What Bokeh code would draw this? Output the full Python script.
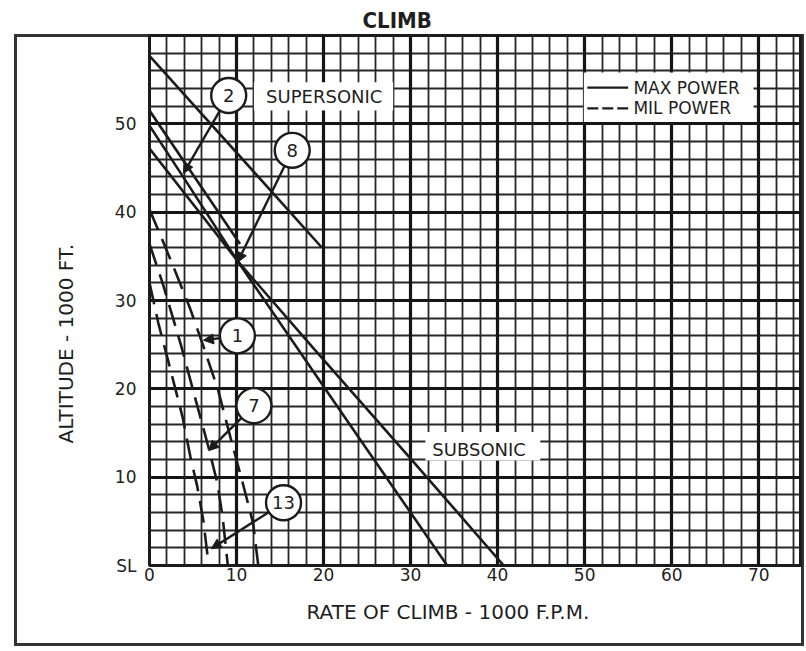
import math
from bokeh.plotting import figure
from bokeh.models import (Range1d, SingleIntervalTicker, FixedTicker, Grid, Arrow,
                          NormalHead, ColumnDataSource, Title)
from bokeh.core.properties import value
from bokeh.embed import file_html
from bokeh.resources import INLINE

# ---------------- data ----------------
x_ticks = [0, 10, 20, 30, 40, 50, 60, 70]
y_ticks = [0, 10, 20, 30, 40, 50]
y_tick_overrides = {0: "SL"}

# MAX POWER (solid)
super_x = [0, 19.8]
super_y = [57.7, 36.0]
max_a_x = [0, 10.4]
max_a_y = [51.5, 36.4]
max_b_x = [0, 4.0, 10.1, 22.0, 34.2]
max_b_y = [49.8, 43.8, 34.5, 17.4, 0.0]
max_c_x = [0, 10.1, 19.0, 30.0, 40.7]
max_c_y = [47.2, 34.5, 24.4, 12.1, 0.0]

# MIL POWER (dashed)
mil_a_x = [0, 1.3, 3.0, 4.7, 6.2, 7.9, 9.3, 10.8, 11.9, 12.5]
mil_a_y = [40.3, 37.3, 33.2, 29.0, 24.8, 19.8, 14.5, 9.0, 4.8, 0.0]
mil_b_x = [0, 1.5, 3.6, 5.1, 6.8, 7.8, 8.4, 9.0]
mil_b_y = [36.4, 32.0, 25.0, 19.5, 13.3, 9.3, 5.5, 0.0]
mil_c_x = [0, 1.0, 2.4, 3.8, 4.7, 5.5, 6.2, 6.8]
mil_c_y = [32.0, 27.5, 22.2, 16.8, 12.3, 8.9, 5.0, 0.0]

# configuration call-outs
callout_text = ["2", "8", "1", "7", "13"]
callout_x = [9.1, 16.4, 10.1, 12.0, 15.4]
callout_y = [53.2, 47.0, 26.0, 18.1, 7.1]
callout_tip_x = [3.9, 10.1, 6.2, 6.8, 7.1]
callout_tip_y = [44.4, 34.3, 25.5, 13.0, 1.9]

# region labels
region_text = ["SUPERSONIC", "SUBSONIC"]
region_x = [13.4, 32.5]
region_y = [53.1, 13.1]
region_box_left = [12.0, 31.7]
region_box_right = [28.0, 44.9]
region_box_top = [54.7, 15.1]
region_box_bottom = [51.5, 11.9]

# legend
legend_box = dict(left=[49.9], right=[69.4], top=[55.8], bottom=[50.2])
legend_text = ["MAX POWER", "MIL POWER"]
legend_y = [54.1, 51.75]
legend_line_x = [50.3, 55.0]
legend_text_x = 55.6

# ---------------- figure ----------------
W, H = 806, 651
BL, BR, BT, BB = 149, 6, 35, 86
X_MAX, Y_MAX = 74.8, 60
INK = "#1b1b1b"
FONT = "DejaVu Sans"

# outer frame of the sheet drawn as host background lines
frame_css = {
    "background-color": "white",
    "background-image": ", ".join(["linear-gradient(#333333, #333333)"] * 4),
    "background-size": "3px 612px, 790px 3px, 790px 3px, 3px 612px",
    "background-position": "14px 34px, 14px 34px, 14px 643px, 801px 34px",
    "background-repeat": "no-repeat",
}

p = figure(width=W, height=H, x_range=Range1d(0, X_MAX), y_range=Range1d(0, Y_MAX),
           output_backend="svg", toolbar_location=None,
           min_border_left=BL, min_border_right=BR, min_border_top=BT, min_border_bottom=BB,
           styles=frame_css)
p.background_fill_color = "white"
p.border_fill_color = None
p.outline_line_color = INK
p.outline_line_width = 3

p.title.text = "CLIMB"
p.title.align = "left"
p.title.offset = 213
p.title.standoff = 6
p.title.text_font = "DejaVu Sans Condensed"
p.title.text_font_style = "bold"
p.title.text_font_size = "22px"
p.title.text_color = "#1e1e1e"

for ax in (p.xaxis[0], p.yaxis[0]):
    ax.axis_line_color = None
    ax.major_tick_line_color = None
    ax.minor_tick_line_color = None
    ax.major_tick_out = 0
    ax.major_tick_in = 0
    ax.major_label_text_font = FONT
    ax.major_label_text_font_size = "17px"
    ax.major_label_text_color = "#222222"
p.xaxis[0].ticker = FixedTicker(ticks=x_ticks)
p.yaxis[0].ticker = FixedTicker(ticks=y_ticks)
p.yaxis[0].major_label_overrides = y_tick_overrides
p.xaxis[0].major_label_standoff = 2
p.yaxis[0].major_label_standoff = 13

p.add_layout(Title(text="ALTITUDE - 1000 FT.", align="left", offset=122, standoff=67,
                   text_font=FONT, text_font_style="normal", text_font_size="20px",
                   text_color="#1e1e1e"), "left")
p.add_layout(Title(text="RATE OF CLIMB - 1000 F.P.M.", align="left", offset=157, standoff=29,
                   text_font=FONT, text_font_style="normal", text_font_size="20px",
                   text_color="#1e1e1e"), "below")

# fine grid every 2 units, heavy grid every 10
p.xgrid.ticker = SingleIntervalTicker(interval=2)
p.ygrid.ticker = SingleIntervalTicker(interval=2)
for g in (p.xgrid[0], p.ygrid[0]):
    g.grid_line_color = "#262626"
    g.grid_line_width = 1.8
for dim in (0, 1):
    p.add_layout(Grid(dimension=dim, ticker=SingleIntervalTicker(interval=10),
                      grid_line_color="#151515", grid_line_width=3.2))

# white label boxes
p.quad(left=region_box_left, right=region_box_right, top=region_box_top,
       bottom=region_box_bottom, fill_color="white", line_color=None)
p.quad(fill_color="white", line_color=None, **legend_box)

# curves
for xs, ys in ((super_x, super_y), (max_a_x, max_a_y), (max_b_x, max_b_y), (max_c_x, max_c_y)):
    p.line(xs, ys, line_color=INK, line_width=2.6)
for xs, ys in ((mil_a_x, mil_a_y), (mil_b_x, mil_b_y), (mil_c_x, mil_c_y)):
    p.line(xs, ys, line_color=INK, line_width=2.6, line_dash="22 10")

# legend entries
p.line(legend_line_x, [legend_y[0]] * 2, line_color=INK, line_width=2.4)
p.line(legend_line_x, [legend_y[1]] * 2, line_color=INK, line_width=2.4, line_dash="11 4")
p.text(x=[legend_text_x] * 2, y=legend_y, text=legend_text, text_font=value(FONT),
       text_font_size="17px", text_baseline="middle", text_align="left", text_color="#1e1e1e")

# region labels
p.text(x=region_x, y=region_y, text=region_text, text_font=value(FONT),
       text_font_size="18px", text_baseline="middle", text_align="left", text_color="#1e1e1e")

# call-out arrows start at the circle rim
sx = (W - BL - BR) / X_MAX
sy = (H - BT - BB) / Y_MAX
R = 17.5
xs0, ys0 = [], []
for cx, cy, tx, ty in zip(callout_x, callout_y, callout_tip_x, callout_tip_y):
    dx, dy = (tx - cx) * sx, (ty - cy) * sy
    d = math.hypot(dx, dy)
    xs0.append(cx + dx / d * R / sx)
    ys0.append(cy + dy / d * R / sy)
arr_src = ColumnDataSource(dict(x0=xs0, y0=ys0, x1=callout_tip_x, y1=callout_tip_y))
p.add_layout(Arrow(x_start="x0", y_start="y0", x_end="x1", y_end="y1", source=arr_src,
                   line_color=INK, line_width=2.4,
                   end=NormalHead(size=10, fill_color=INK, line_color=INK)))
p.scatter(callout_x, callout_y, marker="circle", size=35, fill_color="white",
          line_color=INK, line_width=2.4)
p.text(x=callout_x, y=callout_y, text=callout_text, text_font=value(FONT),
       text_font_size="18px", text_align="center", text_baseline="middle", text_color="#1e1e1e")

open("out.html", "w").write(file_html(p, INLINE))
